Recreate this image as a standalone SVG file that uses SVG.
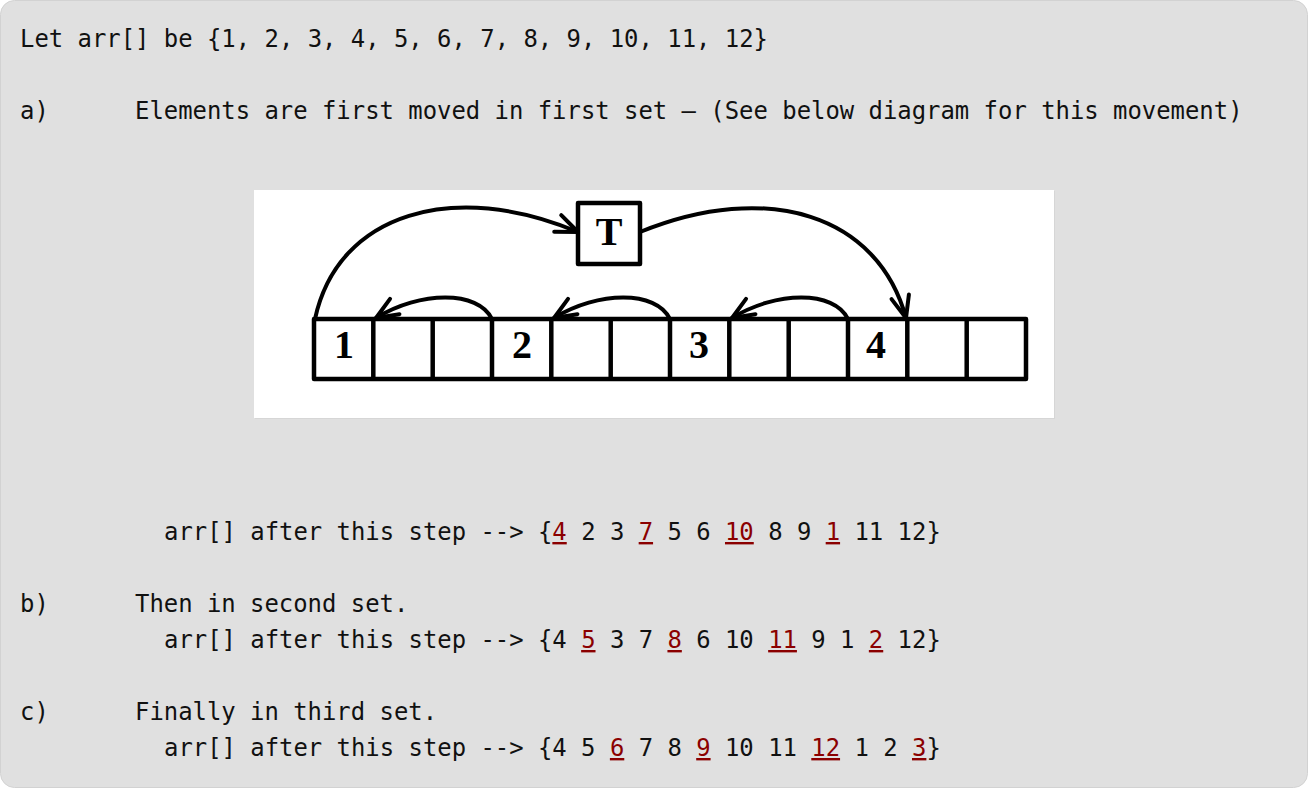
<svg xmlns="http://www.w3.org/2000/svg" width="1308" height="788" viewBox="0 0 1308 788">
<style>
.t{font-family:"DejaVu Sans Mono","Liberation Mono",monospace;font-size:23.9px;fill:#111}
.r{fill:#8b0000;text-decoration:underline}
.num{font-family:"Liberation Serif","DejaVu Serif",serif;font-size:40px;font-weight:bold;fill:#000;text-anchor:middle}
.box{fill:#fff;stroke:#000;stroke-width:4.5;stroke-linejoin:round}
.div{stroke:#000;stroke-width:4.5}
.arc{fill:none;stroke:#000;stroke-width:4;stroke-linecap:round}
</style>
<defs>
<marker id="ah" markerUnits="userSpaceOnUse" viewBox="-28 -14 32 28" refX="0" refY="0" markerWidth="32" markerHeight="28" orient="auto" overflow="visible">
<path d="M-22,-9 L0,0 L-22,9" fill="none" stroke="#000" stroke-width="4" stroke-linecap="round" stroke-linejoin="round"/>
</marker>
</defs>
<rect x="0" y="0" width="1308" height="788" fill="#fff"/>
<rect x="0.5" y="0.5" width="1307" height="787" rx="14" fill="#e0e0e0" stroke="#d2d2d2"/>

<g id="text">
<text class="t" x="20" y="47">Let arr[] be {1, 2, 3, 4, 5, 6, 7, 8, 9, 10, 11, 12}</text>
<text class="t" x="20" y="119">a)</text>
<text class="t" x="135" y="119">Elements are first moved in first set – (See below diagram for this movement)</text>
<text class="t" x="164" y="540">arr[] after this step --&gt; {<tspan class="r">4</tspan> 2 3 <tspan class="r">7</tspan> 5 6 <tspan class="r">10</tspan> 8 9 <tspan class="r">1</tspan> 11 12}</text>
<text class="t" x="20" y="612">b)</text>
<text class="t" x="135" y="612">Then in second set.</text>
<text class="t" x="164" y="648">arr[] after this step --&gt; {4 <tspan class="r">5</tspan> 3 7 <tspan class="r">8</tspan> 6 10 <tspan class="r">11</tspan> 9 1 <tspan class="r">2</tspan> 12}</text>
<text class="t" x="20" y="720">c)</text>
<text class="t" x="135" y="720">Finally in third set.</text>
<text class="t" x="164" y="756">arr[] after this step --&gt; {4 5 <tspan class="r">6</tspan> 7 8 <tspan class="r">9</tspan> 10 11 <tspan class="r">12</tspan> 1 2 <tspan class="r">3</tspan>}</text>
</g>

<g id="figure">
<rect x="255" y="191" width="800" height="228" fill="#d6d6d6"/>
<rect x="254" y="190" width="800" height="228" fill="#fff"/>
</g>

<g id="array">
<rect class="box" x="314" y="319" width="712" height="60"/>
<g class="div">
<line x1="373.3" y1="319" x2="373.3" y2="379"/>
<line x1="432.7" y1="319" x2="432.7" y2="379"/>
<line x1="492" y1="319" x2="492" y2="379"/>
<line x1="551.3" y1="319" x2="551.3" y2="379"/>
<line x1="610.7" y1="319" x2="610.7" y2="379"/>
<line x1="670" y1="319" x2="670" y2="379"/>
<line x1="729.3" y1="319" x2="729.3" y2="379"/>
<line x1="788.7" y1="319" x2="788.7" y2="379"/>
<line x1="848" y1="319" x2="848" y2="379"/>
<line x1="907.3" y1="319" x2="907.3" y2="379"/>
<line x1="966.7" y1="319" x2="966.7" y2="379"/>
</g>
</g>
<g id="cell1"><text class="num" x="344" y="358">1</text></g>
<g id="cell4"><text class="num" x="522" y="358">2</text></g>
<g id="cell7"><text class="num" x="699" y="358">3</text></g>
<g id="cell10"><text class="num" x="876" y="358">4</text></g>

<g id="T">
<rect class="box" x="578" y="203" width="62" height="61"/>
<text class="num" x="609" y="245" font-size="40">T</text>
</g>

<g id="connectors">
<path class="arc" d="M315,319 C338,212 455,180 578,232" marker-end="url(#ah)"/>
<path class="arc" d="M640,232 C768,180 878,215 906,318" marker-end="url(#ah)"/>
<path class="arc" d="M492,319 C478,290 420,291 376,318" marker-end="url(#ah)"/>
<path class="arc" d="M670,319 C656,290 598,291 554,318" marker-end="url(#ah)"/>
<path class="arc" d="M848,319 C834,290 776,291 732,318" marker-end="url(#ah)"/>
</g>
</svg>
